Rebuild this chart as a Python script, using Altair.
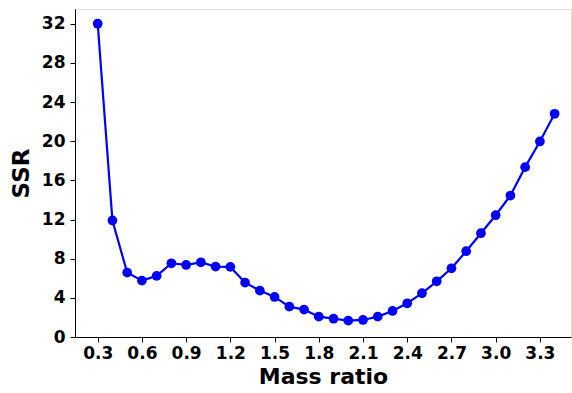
import altair as alt
import pandas as pd

mass_ratio = [0.3, 0.4, 0.5, 0.6, 0.7, 0.8, 0.9, 1.0, 1.1, 1.2, 1.3, 1.4, 1.5, 1.6, 1.7, 1.8,
              1.9, 2.0, 2.1, 2.2, 2.3, 2.4, 2.5, 2.6, 2.7, 2.8, 2.9, 3.0, 3.1, 3.2, 3.3, 3.4]
ssr = [32.0, 11.9, 6.58, 5.76, 6.24, 7.53, 7.36, 7.63, 7.19, 7.16, 5.55, 4.74, 4.09, 3.10, 2.80, 2.08,
       1.87, 1.67, 1.74, 2.08, 2.66, 3.44, 4.47, 5.69, 7.02, 8.76, 10.60, 12.44, 14.45, 17.35, 19.97, 22.80]
x_ticks = [0.3, 0.6, 0.9, 1.2, 1.5, 1.8, 2.1, 2.4, 2.7, 3.0, 3.3]
y_ticks = [0, 4, 8, 12, 16, 20, 24, 28, 32]

df = pd.DataFrame({"mass_ratio": mass_ratio, "ssr": ssr})

font = "DejaVu Sans"

x = alt.X("mass_ratio:Q",
          scale=alt.Scale(domain=[0.146, 3.511], nice=False, zero=False),
          axis=alt.Axis(title="Mass ratio", values=x_ticks, format=".1f",
                        labelFontSize=17, labelFontWeight="bold", labelFont=font,
                        titleFontSize=22, titleFontWeight="bold", titleFont=font,
                        labelColor="black", titleColor="black",
                        tickColor="black", domainColor="black", tickSize=5,
                        labelPadding=3, titlePadding=5, grid=False, labelFlush=False))
y = alt.Y("ssr:Q",
          scale=alt.Scale(domain=[0, 33.5], nice=False),
          axis=alt.Axis(title="SSR", values=y_ticks, format="d",
                        labelFontSize=17, labelFontWeight="bold", labelFont=font,
                        titleFontSize=23, titleFontWeight="bold", titleFont=font,
                        labelColor="black", titleColor="black",
                        tickColor="black", domainColor="black", tickSize=5,
                        labelPadding=5, titlePadding=8, grid=False, labelFlush=False))

base = alt.Chart(df)
line = base.mark_line(color="#0000ff", strokeWidth=2.2).encode(x=x, y=y)
pts = base.mark_circle(color="#0000ff", size=95, opacity=1).encode(x=x, y=y)

chart = (line + pts).properties(
    width=496, height=328,
    padding={"left": 75, "top": 9, "right": 1, "bottom": 56},
    autosize=alt.AutoSizeParams(type="none"),
).configure_view(stroke="black", strokeWidth=1).configure(background="white")

chart.save("out.html", embed_options={"renderer": "svg", "actions": False})
